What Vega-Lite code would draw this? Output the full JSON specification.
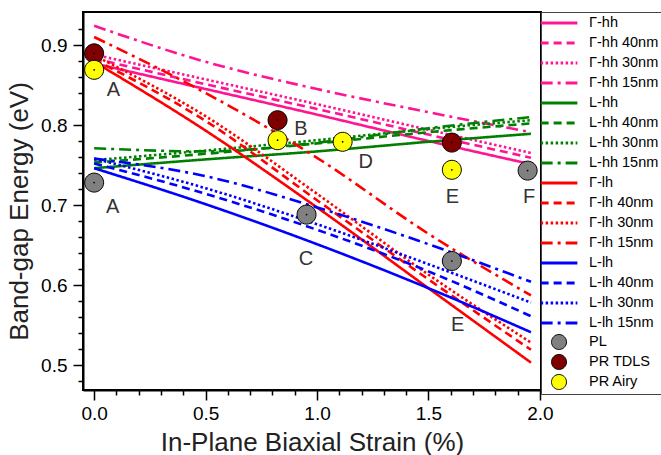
{
  "$schema": "https://vega.github.io/schema/vega-lite/v6.json",
  "autosize": "none",
  "padding": {"left": 83, "top": 12, "right": 120, "bottom": 65},
  "width": 458,
  "height": 378,
  "config": {
    "font": "Liberation Sans",
    "view": {"stroke": "black", "strokeWidth": 2},
    "axis": {"grid": false, "domainColor": "black", "domainWidth": 2, "tickColor": "black", "tickWidth": 1.5, "labelColor": "black", "titleColor": "#222", "titleFontWeight": "normal", "labelFontSize": 19, "titleFontSize": 26, "labelOverlap": false, "labelFlush": false},
    "legend": {"padding": 2, "rowPadding": 0, "gridAlign": "all", "symbolSize": 225, "symbolOffset": 7, "labelOffset": 21, "labelFontSize": 14.5, "labelColor": "black", "labelFont": "Liberation Sans", "strokeColor": "#444", "labelLimit": 300}
  },
  "datasets": {
    "lines": [
      {"series": "Γ-hh", "x": 0, "y": 0.877}, {"series": "Γ-hh", "x": 0.5, "y": 0.845}, {"series": "Γ-hh", "x": 1.0, "y": 0.813}, {"series": "Γ-hh", "x": 1.5, "y": 0.780}, {"series": "Γ-hh", "x": 1.96, "y": 0.751},
      {"series": "Γ-hh 40nm", "x": 0, "y": 0.883}, {"series": "Γ-hh 40nm", "x": 0.5, "y": 0.851}, {"series": "Γ-hh 40nm", "x": 1.0, "y": 0.820}, {"series": "Γ-hh 40nm", "x": 1.5, "y": 0.788}, {"series": "Γ-hh 40nm", "x": 1.96, "y": 0.759},
      {"series": "Γ-hh 30nm", "x": 0, "y": 0.888}, {"series": "Γ-hh 30nm", "x": 0.5, "y": 0.857}, {"series": "Γ-hh 30nm", "x": 1.0, "y": 0.826}, {"series": "Γ-hh 30nm", "x": 1.5, "y": 0.794}, {"series": "Γ-hh 30nm", "x": 1.96, "y": 0.765},
      {"series": "Γ-hh 15nm", "x": 0, "y": 0.924}, {"series": "Γ-hh 15nm", "x": 0.5, "y": 0.879}, {"series": "Γ-hh 15nm", "x": 1.0, "y": 0.845}, {"series": "Γ-hh 15nm", "x": 1.5, "y": 0.816}, {"series": "Γ-hh 15nm", "x": 1.96, "y": 0.791},
      {"series": "L-hh", "x": 0, "y": 0.746}, {"series": "L-hh", "x": 0.5, "y": 0.757}, {"series": "L-hh", "x": 1.0, "y": 0.767}, {"series": "L-hh", "x": 1.5, "y": 0.779}, {"series": "L-hh", "x": 1.96, "y": 0.789},
      {"series": "L-hh 40nm", "x": 0, "y": 0.753}, {"series": "L-hh 40nm", "x": 0.5, "y": 0.764}, {"series": "L-hh 40nm", "x": 1.0, "y": 0.777}, {"series": "L-hh 40nm", "x": 1.5, "y": 0.791}, {"series": "L-hh 40nm", "x": 1.96, "y": 0.802},
      {"series": "L-hh 30nm", "x": 0, "y": 0.756}, {"series": "L-hh 30nm", "x": 0.5, "y": 0.768}, {"series": "L-hh 30nm", "x": 1.0, "y": 0.781}, {"series": "L-hh 30nm", "x": 1.5, "y": 0.795}, {"series": "L-hh 30nm", "x": 1.96, "y": 0.806},
      {"series": "L-hh 15nm", "x": 0, "y": 0.771}, {"series": "L-hh 15nm", "x": 0.5, "y": 0.767}, {"series": "L-hh 15nm", "x": 1.0, "y": 0.778}, {"series": "L-hh 15nm", "x": 1.5, "y": 0.796}, {"series": "L-hh 15nm", "x": 1.96, "y": 0.810},
      {"series": "Γ-lh", "x": 0, "y": 0.879}, {"series": "Γ-lh", "x": 0.5, "y": 0.793}, {"series": "Γ-lh", "x": 1.0, "y": 0.697}, {"series": "Γ-lh", "x": 1.5, "y": 0.596}, {"series": "Γ-lh", "x": 1.96, "y": 0.503},
      {"series": "Γ-lh 40nm", "x": 0, "y": 0.882}, {"series": "Γ-lh 40nm", "x": 0.5, "y": 0.805}, {"series": "Γ-lh 40nm", "x": 1.0, "y": 0.706}, {"series": "Γ-lh 40nm", "x": 1.5, "y": 0.607}, {"series": "Γ-lh 40nm", "x": 1.96, "y": 0.519},
      {"series": "Γ-lh 30nm", "x": 0, "y": 0.887}, {"series": "Γ-lh 30nm", "x": 0.5, "y": 0.811}, {"series": "Γ-lh 30nm", "x": 1.0, "y": 0.714}, {"series": "Γ-lh 30nm", "x": 1.5, "y": 0.613}, {"series": "Γ-lh 30nm", "x": 1.96, "y": 0.528},
      {"series": "Γ-lh 15nm", "x": 0, "y": 0.910}, {"series": "Γ-lh 15nm", "x": 0.5, "y": 0.840}, {"series": "Γ-lh 15nm", "x": 1.0, "y": 0.759}, {"series": "Γ-lh 15nm", "x": 1.5, "y": 0.664}, {"series": "Γ-lh 15nm", "x": 1.96, "y": 0.587},
      {"series": "L-lh", "x": 0, "y": 0.746}, {"series": "L-lh", "x": 0.5, "y": 0.701}, {"series": "L-lh", "x": 1.0, "y": 0.651}, {"series": "L-lh", "x": 1.5, "y": 0.596}, {"series": "L-lh", "x": 1.96, "y": 0.541},
      {"series": "L-lh 40nm", "x": 0, "y": 0.752}, {"series": "L-lh 40nm", "x": 0.5, "y": 0.714}, {"series": "L-lh 40nm", "x": 1.0, "y": 0.669}, {"series": "L-lh 40nm", "x": 1.5, "y": 0.617}, {"series": "L-lh 40nm", "x": 1.96, "y": 0.561},
      {"series": "L-lh 30nm", "x": 0, "y": 0.758}, {"series": "L-lh 30nm", "x": 0.5, "y": 0.721}, {"series": "L-lh 30nm", "x": 1.0, "y": 0.676}, {"series": "L-lh 30nm", "x": 1.5, "y": 0.626}, {"series": "L-lh 30nm", "x": 1.96, "y": 0.578},
      {"series": "L-lh 15nm", "x": 0, "y": 0.758}, {"series": "L-lh 15nm", "x": 0.5, "y": 0.736}, {"series": "L-lh 15nm", "x": 1.0, "y": 0.697}, {"series": "L-lh 15nm", "x": 1.5, "y": 0.651}, {"series": "L-lh 15nm", "x": 1.96, "y": 0.604}
    ],
    "points": [
      {"series": "PL", "x": 0, "y": 0.728}, {"series": "PL", "x": 0.953, "y": 0.688}, {"series": "PL", "x": 1.605, "y": 0.630}, {"series": "PL", "x": 1.945, "y": 0.743},
      {"series": "PR TDLS", "x": 0, "y": 0.8896}, {"series": "PR TDLS", "x": 0.823, "y": 0.806}, {"series": "PR TDLS", "x": 1.605, "y": 0.778},
      {"series": "PR Airy", "x": 0, "y": 0.869}, {"series": "PR Airy", "x": 0.823, "y": 0.781}, {"series": "PR Airy", "x": 1.115, "y": 0.779}, {"series": "PR Airy", "x": 1.605, "y": 0.744}
    ],
    "labels": [
      {"label": "A", "x": 0.086, "y": 0.844}, {"label": "A", "x": 0.083, "y": 0.698},
      {"label": "B", "x": 0.928, "y": 0.795}, {"label": "C", "x": 0.950, "y": 0.6325},
      {"label": "D", "x": 1.219, "y": 0.754}, {"label": "E", "x": 1.607, "y": 0.710},
      {"label": "E", "x": 1.631, "y": 0.550}, {"label": "F", "x": 1.952, "y": 0.710}
    ]
  },
  "encoding": {
    "x": {"field": "x", "type": "quantitative",
      "scale": {"domain": [-0.05, 2.005], "nice": false, "zero": false},
      "axis": {
        "title": "In-Plane Biaxial Strain (%)",
        "values": [0, 0.1, 0.2, 0.3, 0.4, 0.5, 0.6, 0.7, 0.8, 0.9, 1.0, 1.1, 1.2, 1.3, 1.4, 1.5, 1.6, 1.7, 1.8, 1.9, 2.0],
        "labelExpr": "abs(datum.value*2-round(datum.value*2))<0.001 ? format(datum.value,'.1f') : ''",
        "tickSize": 10,
        "tickDash": {"condition": {"test": "abs(datum.value*2-round(datum.value*2))<0.001", "value": [1, 0]}, "value": [5, 20]},
        "labelPadding": 4,
        "titleY": 60,
        "titleBaseline": "alphabetic"
      }
    },
    "y": {"field": "y", "type": "quantitative",
      "scale": {"domain": [0.46875, 0.94125], "nice": false, "zero": false},
      "axis": {
        "title": "Band-gap Energy (eV)",
        "values": [0.48, 0.5, 0.52, 0.54, 0.56, 0.58, 0.6, 0.62, 0.64, 0.66, 0.68, 0.7, 0.72, 0.74, 0.76, 0.78, 0.8, 0.82, 0.84, 0.86, 0.88, 0.9, 0.92],
        "labelExpr": "abs(datum.value*10-round(datum.value*10))<0.001 ? format(datum.value,'.1f') : ''",
        "tickSize": 10,
        "tickDash": {"condition": {"test": "abs(datum.value*10-round(datum.value*10))<0.001", "value": [1, 0]}, "value": [5, 20]},
        "labelPadding": 6,
        "titleX": -56,
        "titleY": 199,
        "titleBaseline": "alphabetic"
      }
    }
  },
  "layer": [
    {
      "data": {"name": "lines"},
      "mark": {"type": "line", "strokeWidth": 2.6, "interpolate": "monotone"},
      "encoding": {
        "detail": {"field": "series"},
        "stroke": {"field": "series", "type": "nominal",
          "scale": {
            "domain": ["Γ-hh", "Γ-hh 40nm", "Γ-hh 30nm", "Γ-hh 15nm", "L-hh", "L-hh 40nm", "L-hh 30nm", "L-hh 15nm", "Γ-lh", "Γ-lh 40nm", "Γ-lh 30nm", "Γ-lh 15nm", "L-lh", "L-lh 40nm", "L-lh 30nm", "L-lh 15nm", "PL", "PR TDLS", "PR Airy"],
            "range": ["#ff1493", "#ff1493", "#ff1493", "#ff1493", "#008000", "#008000", "#008000", "#008000", "#ff0000", "#ff0000", "#ff0000", "#ff0000", "#0000ff", "#0000ff", "#0000ff", "#0000ff", "#000000", "#000000", "#000000"]
          },
          "legend": {"orient": "none", "legendX": 458, "legendY": 0, "title": null, "labelExpr": "datum.label + '        '"}
        },
        "strokeDash": {"field": "series", "type": "nominal",
          "scale": {
            "domain": ["Γ-hh", "Γ-hh 40nm", "Γ-hh 30nm", "Γ-hh 15nm", "L-hh", "L-hh 40nm", "L-hh 30nm", "L-hh 15nm", "Γ-lh", "Γ-lh 40nm", "Γ-lh 30nm", "Γ-lh 15nm", "L-lh", "L-lh 40nm", "L-lh 30nm", "L-lh 15nm", "PL", "PR TDLS", "PR Airy"],
            "range": [[1, 0], [8, 5], [2.5, 2.5], [12, 5, 3, 5], [1, 0], [8, 5], [2.5, 2.5], [12, 5, 3, 5], [1, 0], [8, 5], [2.5, 2.5], [12, 5, 3, 5], [1, 0], [8, 5], [2.5, 2.5], [12, 5, 3, 5], [1, 0], [1, 0], [1, 0]]
          },
          "legend": {"orient": "none", "legendX": 458, "legendY": 0, "title": null, "labelExpr": "datum.label + '        '"}
        }
      }
    },
    {
      "data": {"name": "points"},
      "mark": {"type": "point", "filled": true, "size": 361, "opacity": 1},
      "encoding": {
        "fill": {"field": "series", "type": "nominal",
          "scale": {
            "domain": ["Γ-hh", "Γ-hh 40nm", "Γ-hh 30nm", "Γ-hh 15nm", "L-hh", "L-hh 40nm", "L-hh 30nm", "L-hh 15nm", "Γ-lh", "Γ-lh 40nm", "Γ-lh 30nm", "Γ-lh 15nm", "L-lh", "L-lh 40nm", "L-lh 30nm", "L-lh 15nm", "PL", "PR TDLS", "PR Airy"],
            "range": ["transparent", "transparent", "transparent", "transparent", "transparent", "transparent", "transparent", "transparent", "transparent", "transparent", "transparent", "transparent", "transparent", "transparent", "transparent", "transparent", "#808080", "#800000", "#ffff00"]
          },
          "legend": {"orient": "none", "legendX": 458, "legendY": 0, "title": null, "labelExpr": "datum.label + '        '"}
        },
        "stroke": {"field": "series", "type": "nominal"},
        "strokeWidth": {"field": "series", "type": "nominal",
          "scale": {
            "type": "ordinal",
            "domain": ["Γ-hh", "Γ-hh 40nm", "Γ-hh 30nm", "Γ-hh 15nm", "L-hh", "L-hh 40nm", "L-hh 30nm", "L-hh 15nm", "Γ-lh", "Γ-lh 40nm", "Γ-lh 30nm", "Γ-lh 15nm", "L-lh", "L-lh 40nm", "L-lh 30nm", "L-lh 15nm", "PL", "PR TDLS", "PR Airy"],
            "range": [3, 3, 3, 3, 3, 3, 3, 3, 3, 3, 3, 3, 3, 3, 3, 3, 1, 1, 1]
          },
          "legend": {"orient": "none", "legendX": 458, "legendY": 0, "title": null, "labelExpr": "datum.label + '        '"}
        },
        "shape": {"field": "series", "type": "nominal",
          "scale": {
            "domain": ["Γ-hh", "Γ-hh 40nm", "Γ-hh 30nm", "Γ-hh 15nm", "L-hh", "L-hh 40nm", "L-hh 30nm", "L-hh 15nm", "Γ-lh", "Γ-lh 40nm", "Γ-lh 30nm", "Γ-lh 15nm", "L-lh", "L-lh 40nm", "L-lh 30nm", "L-lh 15nm", "PL", "PR TDLS", "PR Airy"],
            "range": ["M-2.45,0L2.45,0", "M-2.45,0L2.45,0", "M-2.45,0L2.45,0", "M-2.45,0L2.45,0", "M-2.45,0L2.45,0", "M-2.45,0L2.45,0", "M-2.45,0L2.45,0", "M-2.45,0L2.45,0", "M-2.45,0L2.45,0", "M-2.45,0L2.45,0", "M-2.45,0L2.45,0", "M-2.45,0L2.45,0", "M-2.45,0L2.45,0", "M-2.45,0L2.45,0", "M-2.45,0L2.45,0", "M-2.45,0L2.45,0", "M1,0A1,1,0,1,1,-1,0A1,1,0,1,1,1,0Z", "M1,0A1,1,0,1,1,-1,0A1,1,0,1,1,1,0Z", "M1,0A1,1,0,1,1,-1,0A1,1,0,1,1,1,0Z"]
          },
          "legend": {"orient": "none", "legendX": 458, "legendY": 0, "title": null, "labelExpr": "datum.label + '        '"}
        }
      }
    },
    {
      "data": {"name": "points"},
      "mark": {"type": "point", "shape": "circle", "filled": true, "size": 3, "color": "black", "opacity": 1}
    },
    {
      "data": {"name": "labels"},
      "mark": {"type": "text", "fontSize": 20, "color": "#333", "align": "center", "baseline": "middle"},
      "encoding": {"text": {"field": "label"}}
    }
  ]
}
